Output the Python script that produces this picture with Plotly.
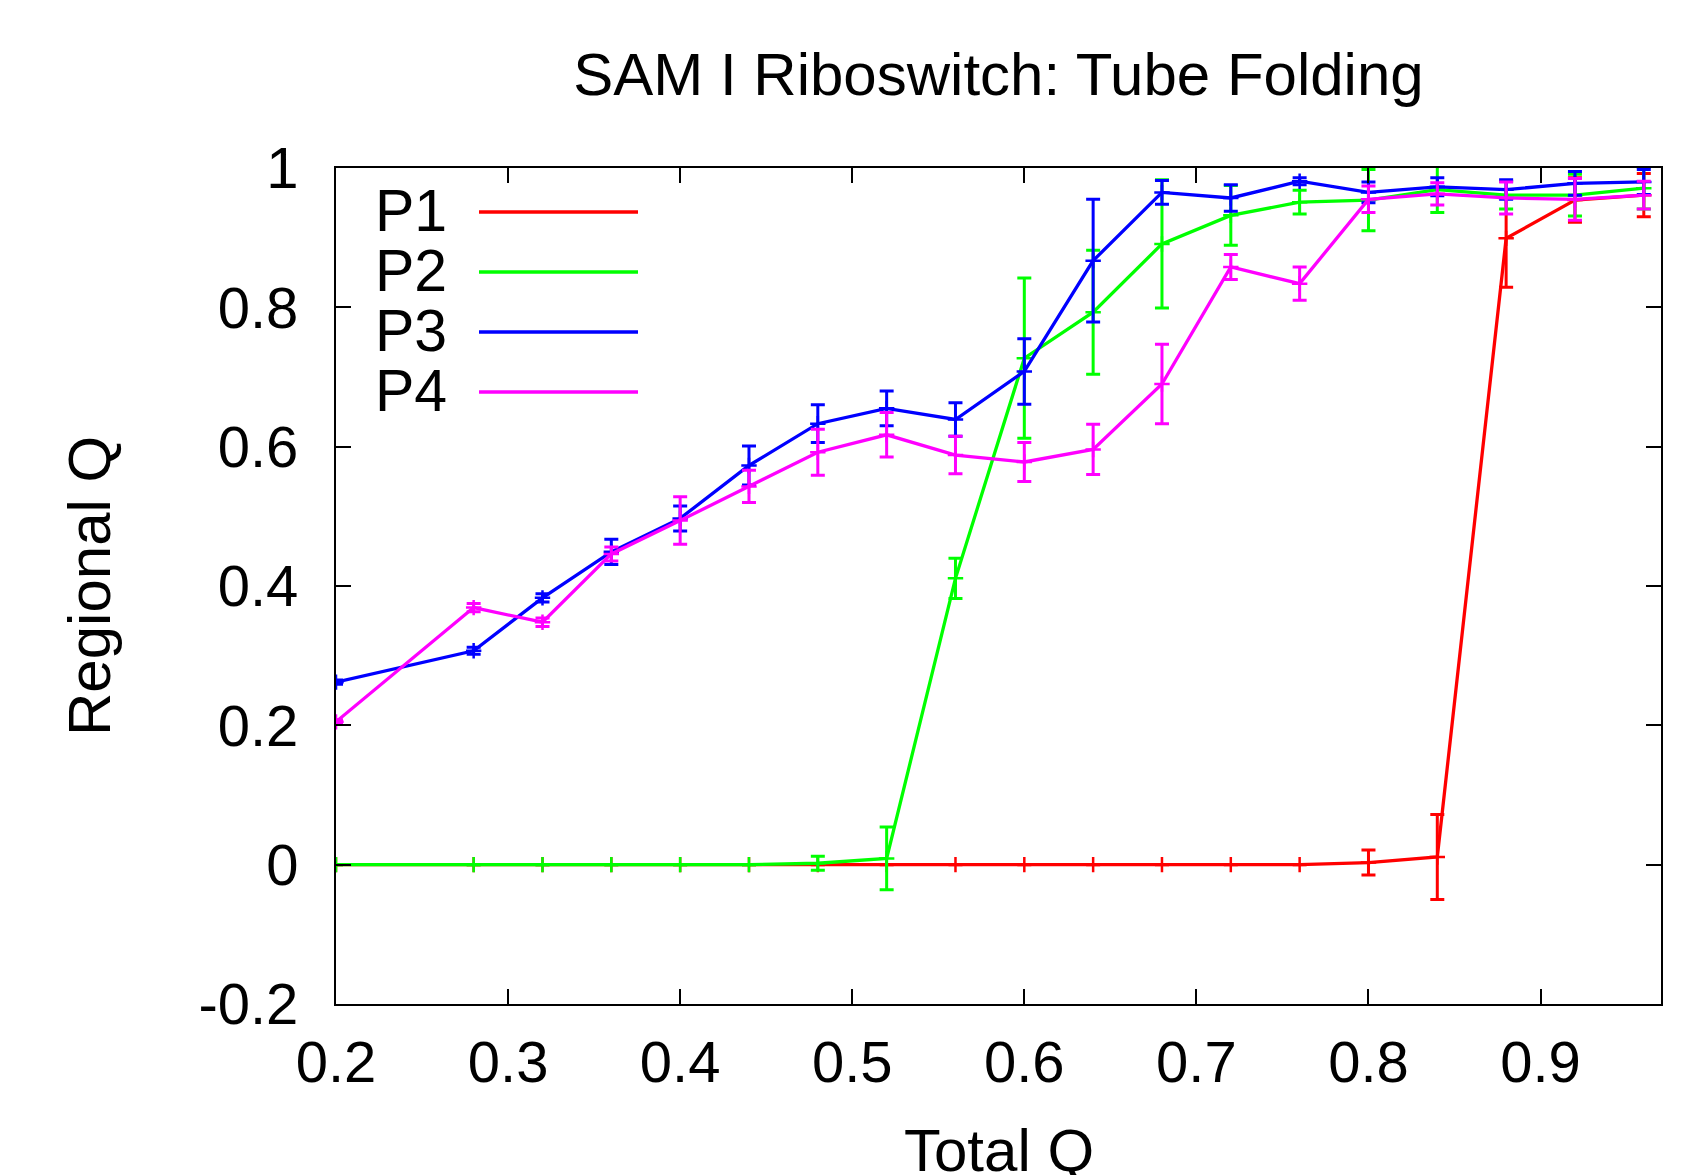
import plotly.graph_objects as go

# ---- data ----
total_q = [0.20, 0.28, 0.32, 0.36, 0.40, 0.44, 0.48, 0.52, 0.56, 0.60,
           0.64, 0.68, 0.72, 0.76, 0.80, 0.84, 0.88, 0.92, 0.96]

p1 = [0, 0, 0, 0, 0, 0, 0, 0, 0, 0, 0, 0, 0, 0, 0.003, 0.011, 0.899, 0.954, 0.961]
p1_err = [0, 0, 0, 0, 0, 0, 0, 0, 0, 0, 0, 0, 0, 0, 0.018, 0.061, 0.070, 0.032, 0.031]

p2 = [0, 0, 0, 0, 0, 0, 0.002, 0.009, 0.411, 0.727, 0.793, 0.891, 0.932, 0.951,
      0.954, 0.969, 0.961, 0.961, 0.971]
p2_err = [0, 0, 0, 0, 0, 0, 0.010, 0.045, 0.029, 0.115, 0.089, 0.092, 0.043, 0.017,
          0.044, 0.033, 0.020, 0.030, 0.030]

p3 = [0.262, 0.307, 0.383, 0.449, 0.497, 0.573, 0.633, 0.655, 0.639, 0.708,
      0.867, 0.965, 0.957, 0.981, 0.965, 0.973, 0.969, 0.978, 0.980]
p3_err = [0.003, 0.005, 0.006, 0.018, 0.018, 0.028, 0.027, 0.025, 0.024, 0.047,
          0.088, 0.017, 0.019, 0.005, 0.015, 0.013, 0.014, 0.017, 0.018]

p4 = [0.205, 0.369, 0.348, 0.446, 0.494, 0.543, 0.592, 0.617, 0.588, 0.578,
      0.596, 0.690, 0.858, 0.834, 0.955, 0.963, 0.957, 0.955, 0.961]
p4_err = [0.003, 0.006, 0.006, 0.010, 0.034, 0.023, 0.033, 0.032, 0.027, 0.028,
          0.036, 0.057, 0.018, 0.024, 0.019, 0.016, 0.023, 0.030, 0.020]

series_names = ["P1", "P2", "P3", "P4"]
series_colors = ["#ff0000", "#00ff00", "#0000ff", "#ff00ff"]

x_tickvals = [0.2, 0.3, 0.4, 0.5, 0.6, 0.7, 0.8, 0.9]
x_ticktext = ["0.2", "0.3", "0.4", "0.5", "0.6", "0.7", "0.8", "0.9"]
y_tickvals = [-0.2, 0, 0.2, 0.4, 0.6, 0.8, 1.0]
y_ticktext = ["-0.2", "0", "0.2", "0.4", "0.6", "0.8", "1"]

title_text = "SAM I Riboswitch: Tube Folding"
x_title = "Total Q"
y_title = "Regional Q"

# ---- figure (sized to fit the page inside the default 8px body margin) ----
W, H = 1688, 1167
L, R, T, B = 328, 35, 160, 171
PW, PH = W - L - R, H - T - B
FONT = "Liberation Sans, Arial, Helvetica, sans-serif"
FS_TICK = 58
FS_TEXT = 60
FS_LEG = 59
LW = 3.3

fig = go.Figure()
for name, ys, errs, col in zip(series_names, [p1, p2, p3, p4],
                               [p1_err, p2_err, p3_err, p4_err], series_colors):
    fig.add_trace(go.Scatter(
        x=total_q, y=ys, name=name, mode="lines+markers",
        line=dict(color=col, width=LW),
        marker=dict(symbol="cross-thin", size=11, color=col,
                    line=dict(color=col, width=2.5)),
        error_y=dict(type="data", array=errs, visible=True, color=col,
                     thickness=3, width=7),
        showlegend=False,
    ))


def px2paper_x(px):
    return (px - L) / PW


def px2paper_y(py):
    return (H - B - py) / PH


annotations = []
shapes = []
row_y = [203, 263, 323, 383]
for name, col, ry in zip(series_names, series_colors, row_y):
    annotations.append(dict(
        text=name, xref="paper", yref="paper", x=px2paper_x(441), y=px2paper_y(ry),
        xanchor="right", yanchor="middle", showarrow=False,
        font=dict(family=FONT, size=FS_LEG, color="black")))
    shapes.append(dict(
        type="line", xref="paper", yref="paper",
        x0=px2paper_x(471), x1=px2paper_x(630),
        y0=px2paper_y(ry + 1), y1=px2paper_y(ry + 1),
        line=dict(color=col, width=LW)))

annotations.append(dict(
    text=x_title, xref="paper", yref="paper", x=0.5, y=px2paper_y(1142),
    xanchor="center", yanchor="middle", showarrow=False,
    font=dict(family=FONT, size=FS_TEXT, color="black")))
annotations.append(dict(
    text=y_title, xref="paper", yref="paper", x=px2paper_x(81), y=0.5,
    xanchor="center", yanchor="middle", textangle=-90, showarrow=False,
    font=dict(family=FONT, size=FS_TEXT, color="black")))

axis_common = dict(
    showgrid=False, zeroline=False, ticks="inside", ticklen=15, tickwidth=2,
    tickcolor="black", showline=True, linecolor="black", linewidth=2,
    mirror="ticks", tickfont=dict(family=FONT, size=FS_TICK, color="black"),
)

fig.update_layout(
    width=W, height=H,
    margin=dict(l=L, r=R, t=T, b=B, autoexpand=False),
    paper_bgcolor="white", plot_bgcolor="white",
    title=dict(text=title_text, x=0.5, xref="paper", y=1 - 66 / H,
               yref="container", xanchor="center", yanchor="middle",
               font=dict(family=FONT, size=FS_TEXT, color="black")),
    xaxis=dict(range=[0.2, 0.97], tickvals=x_tickvals, ticktext=x_ticktext,
               ticklabelstandoff=6, **axis_common),
    yaxis=dict(range=[-0.2, 1.0], tickvals=y_tickvals, ticktext=y_ticktext,
               ticklabelstandoff=24, **axis_common),
    annotations=annotations,
    shapes=shapes,
)

fig.write_html("out.html")
